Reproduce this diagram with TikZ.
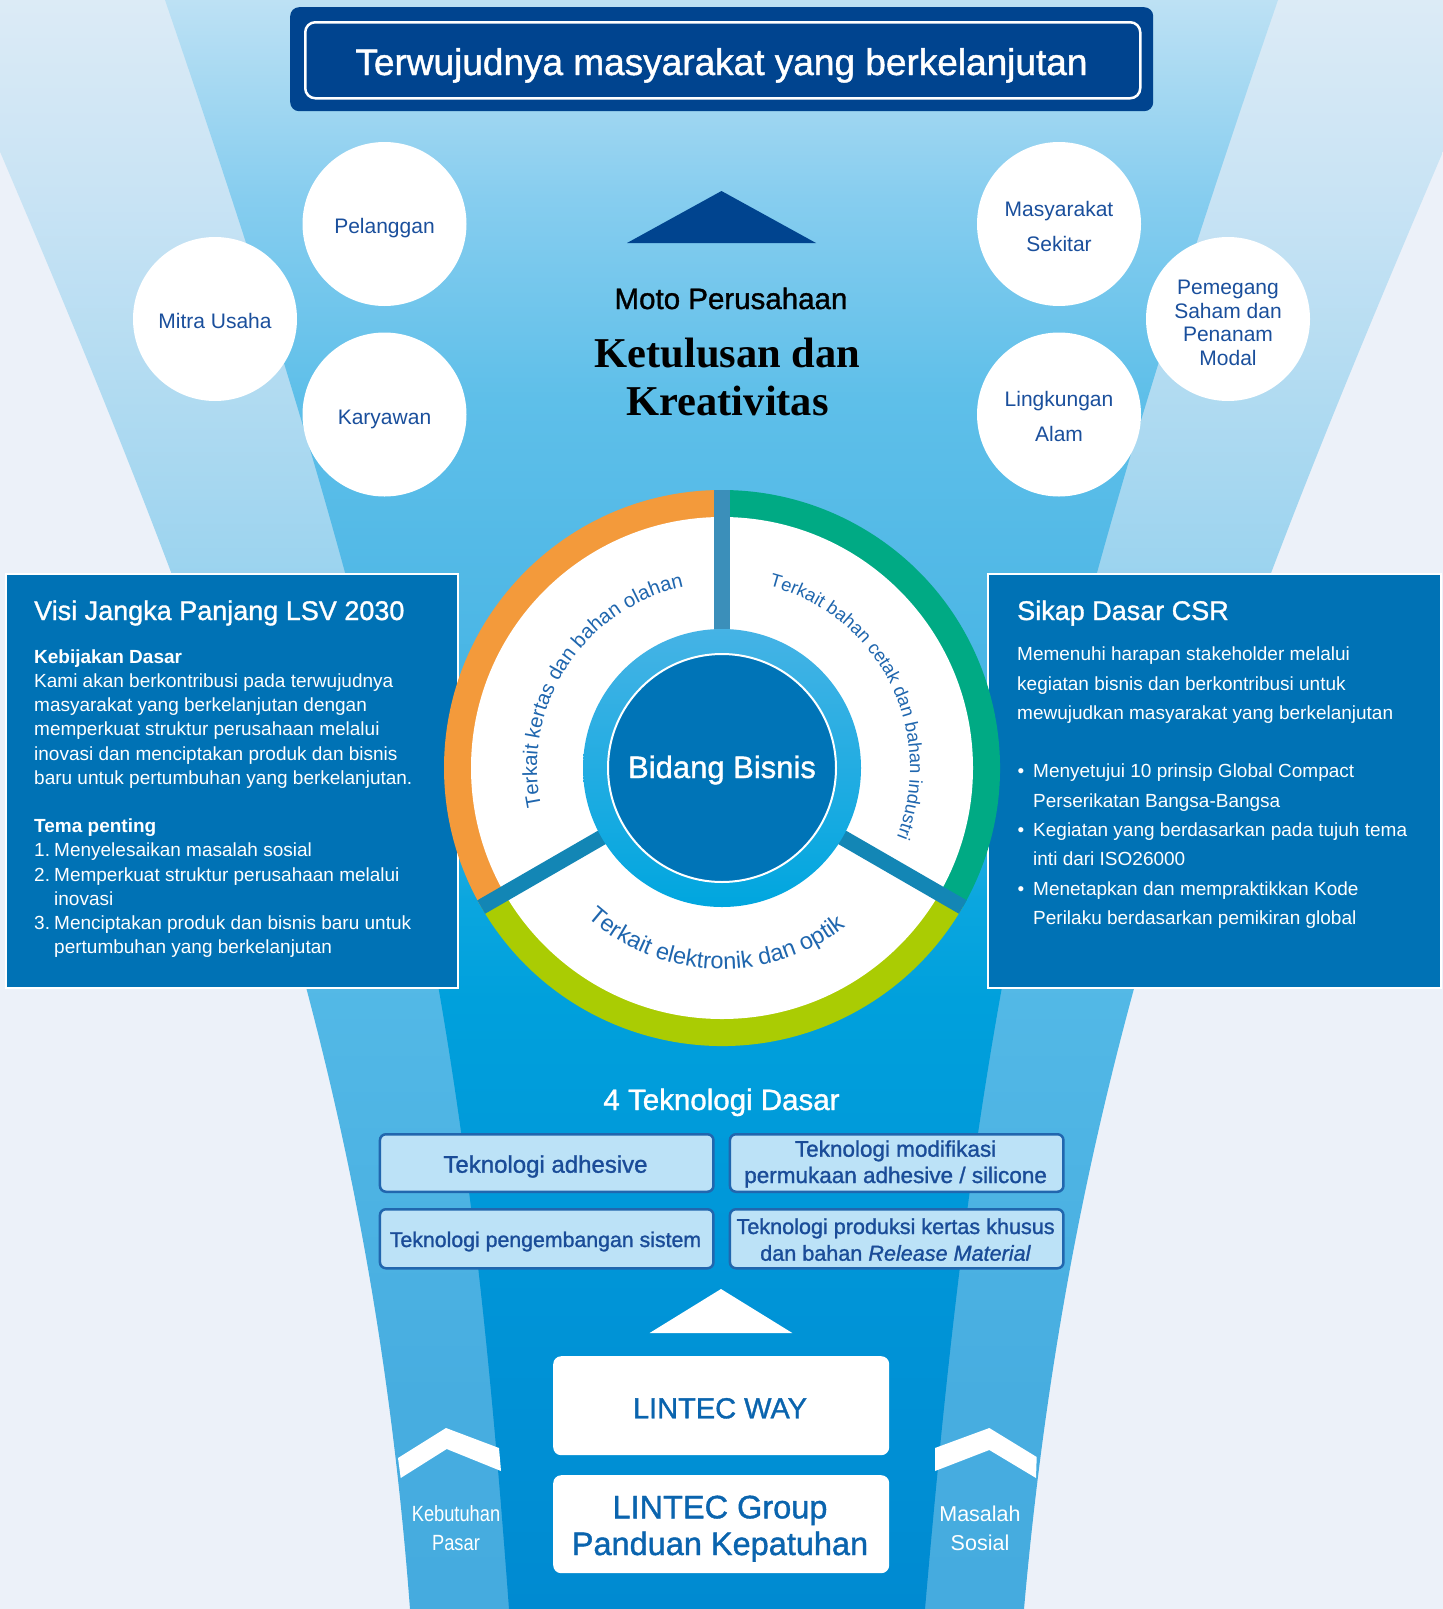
\documentclass[tikz,border=0pt]{standalone}
\usepackage{fontspec}
\setmainfont{Liberation Sans}
\newfontfamily\medfont{Liberation Sans}[FakeBold=1.2]
\newfontfamily\motofont{Liberation Serif}
\newfontfamily\condfont[FakeStretch=0.83]{Liberation Sans}
\usetikzlibrary{decorations.text}

\definecolor{bgpale}{HTML}{ECF1F9}
\definecolor{obA}{HTML}{45ABDF}
\definecolor{obB}{HTML}{47ADE0}
\definecolor{obC}{HTML}{52B8E6}
\definecolor{obD}{HTML}{9DD4EF}
\definecolor{obE}{HTML}{C8E3F4}
\definecolor{obF}{HTML}{DCEBF6}
\definecolor{ibA}{HTML}{008AD1}
\definecolor{ibB}{HTML}{0094D7}
\definecolor{ibC}{HTML}{00A0DC}
\definecolor{ibD}{HTML}{0AA6DF}
\definecolor{ibE}{HTML}{3AB2E4}
\definecolor{ibF}{HTML}{50B8E6}
\definecolor{ibG}{HTML}{5EBFE9}
\definecolor{ibH}{HTML}{86CDEF}
\definecolor{ibI}{HTML}{BDE1F4}
\definecolor{titleblue}{HTML}{00448F}
\definecolor{stakeblue}{HTML}{1A4F9C}
\definecolor{ringorange}{HTML}{F39A3B}
\definecolor{ringgreen}{HTML}{00AA84}
\definecolor{ringlime}{HTML}{AACC03}
\definecolor{spoketop}{HTML}{3B8FBA}
\definecolor{spokelow}{HTML}{1386B5}
\definecolor{annTop}{HTML}{45B3E5}
\definecolor{annBot}{HTML}{00A6DF}
\definecolor{discblue}{HTML}{0074B7}
\definecolor{ringtxt}{HTML}{1F66AE}
\definecolor{panelblue}{HTML}{0072B5}
\definecolor{techfill}{HTML}{BCE2F7}
\definecolor{techline}{HTML}{2166AE}
\definecolor{techtext}{HTML}{1A4C98}
\definecolor{lintecblue}{HTML}{0A64AE}

\pgfdeclareverticalshading{outerband}{100bp}{color(0bp)=(obA); color(25bp)=(obA); color(31.5bp)=(obB); color(43.9bp)=(obC); color(57.6bp)=(obD); color(68.8bp)=(obE); color(75bp)=(obF); color(100bp)=(obF)}
\pgfdeclareverticalshading{innerband}{100bp}{color(0bp)=(ibA); color(25bp)=(ibA); color(34.6bp)=(ibB); color(43.9bp)=(ibC); color(47bp)=(ibD); color(50.8bp)=(ibE); color(56.4bp)=(ibF); color(62.6bp)=(ibG); color(68.8bp)=(ibH); color(75bp)=(ibI); color(100bp)=(ibI)}

\newcommand\fsz[2]{\fontsize{#1}{#2}\selectfont}

\begin{document}
\begin{tikzpicture}[
        x=1pt, y=1pt,
        circ/.style={circle, fill=white, minimum size=164pt, inner sep=0pt},
        stake/.style={anchor=base, text=stakeblue, inner sep=0pt, font=\fsz{21}{25}},
        panel/.style={rectangle, draw=white, line width=2.2pt, fill=panelblue, inner sep=0pt, anchor=north west},
        paneltxt/.style={anchor=base west, text=white, inner sep=0pt, font=\fsz{19}{24}},
        paneltitle/.style={anchor=base west, text=white, inner sep=0pt, font=\medfont\fsz{27}{32}},
        techbox/.style={rectangle, rounded corners=6pt, draw=techline, line width=2.5pt, fill=techfill, inner sep=0pt, anchor=north west, minimum width=333.5pt},
        techtxt/.style={anchor=base, text=techtext, inner sep=0pt},
        lintec/.style={rectangle, rounded corners=8pt, fill=white, inner sep=0pt, anchor=north west, minimum width=336pt},
        lintectxt/.style={anchor=base, text=lintecblue, inner sep=0pt},
        bandtxt/.style={anchor=base, text=white, inner sep=0pt},
        ringlabel/.style={decorate, decoration={text along path, text align=center, text color=ringtxt, text={#1}}}
    ]
        \useasboundingbox (0,0) rectangle (1443,-1609);
        \clip (0,0) rectangle (1443,-1609);

        % Background and funnel
        \fill[bgpale] (0,0) rectangle (1443,-1609);
        \shade[shading=outerband] (-65,0) .. controls (193,-600) and (365,-1009) .. (410,-1609)
            -- (1024,-1609) .. controls (1077,-1009) and (1250,-600) .. (1508,0) -- cycle;
        \shade[shading=innerband] (165,0) .. controls (405,-700) and (465,-1009) .. (509,-1609)
            -- (925,-1609) .. controls (977,-1009) and (1037,-700) .. (1278,0) -- cycle;

        % Goal
        \node[rectangle, rounded corners=9pt, fill=titleblue, minimum width=863pt, minimum height=104pt, inner sep=0pt, anchor=north west] (goalbox) at (290,-7) {};
        \node[rectangle, rounded corners=10pt, draw=white, line width=2.5pt, minimum width=835pt, minimum height=76pt, inner sep=0pt, anchor=north west] (goalframe) at (304,-21) {};
        \node[anchor=base, text=white, inner sep=0pt, font=\medfont\fsz{37}{42}] (goal) at (721.5,-75) {Terwujudnya masyarakat yang berkelanjutan};

        % Stakeholders
        \node[circ] (pel) at (384.5,-224) {};
        \node[circ] (mitra) at (215,-319) {};
        \node[circ] (kary) at (384.5,-414.5) {};
        \node[circ] (masy) at (1059,-224) {};
        \node[circ] (pem) at (1228,-319) {};
        \node[circ] (ling) at (1059,-414.5) {};
        \node[stake] (pelT) at (384.5,-233) {Pelanggan};
        \node[stake] (mitraT) at (215,-328) {Mitra Usaha};
        \node[stake] (karyT) at (384.5,-424.3) {Karyawan};
        \node[stake] (masyT) at (1059,-216) {Masyarakat};
        \node[stake] (masyT2) at (1059,-251) {Sekitar};
        \node[stake] (lingT) at (1059,-406.4) {Lingkungan};
        \node[stake] (lingT2) at (1059,-441) {Alam};
        \foreach \y/\t [count=\i] in {294.6/Pemegang, 318/Saham dan, 341.5/Penanam, 365/Modal}
            \node[stake] (pemT\i) at (1228,-\y) {\t};

        % Motto
        \fill[titleblue] (627,-243) -- (721.5,-191) -- (816,-243) -- cycle;
        \node[anchor=base, inner sep=0pt, font=\medfont\fsz{29.5}{34}] (moto) at (731,-309) {Moto Perusahaan};
        \node[anchor=base, inner sep=0pt, font=\motofont\bfseries\fsz{42.5}{48}] (ketulusan) at (727.6,-367) {Ketulusan dan};
        \node[anchor=base, inner sep=0pt, font=\motofont\bfseries\fsz{42.5}{48}] (kreativitas) at (727.6,-415) {Kreativitas};

        % Long-term vision
        \node[panel, minimum width=452pt, minimum height=414pt] (visi) at (5,-573) {};
        \node[paneltitle] (visiT) at (34,-620) {Visi Jangka Panjang LSV 2030};
        \node[paneltxt, font=\bfseries\fsz{19}{24}] (kebijakan) at (34,-663.3) {Kebijakan Dasar};
        \foreach \y/\t [count=\i] in {687.5/Kami akan berkontribusi pada terwujudnya, 711.7/masyarakat yang berkelanjutan dengan, 735.9/memperkuat struktur perusahaan melalui, 760.1/inovasi dan menciptakan produk dan bisnis, 784.3/baru untuk pertumbuhan yang berkelanjutan.}
            \node[paneltxt] (kb\i) at (34,-\y) {\t};
        \node[paneltxt, font=\bfseries\fsz{19}{24}] (tema) at (34,-832.5) {Tema penting};
        \foreach \y/\n/\t [count=\i] in {856.8/1./Menyelesaikan masalah sosial, 881/2./Memperkuat struktur perusahaan melalui, 905.2/{}/inovasi, 929.4/3./Menciptakan produk dan bisnis baru untuk, 953.6/{}/pertumbuhan yang berkelanjutan} {
            \node[paneltxt] (tn\i) at (34,-\y) {\n};
            \node[paneltxt] (tt\i) at (54,-\y) {\t};
        }

        % CSR attitude
        \node[panel, minimum width=453pt, minimum height=414pt] (csr) at (987,-573) {};
        \node[paneltitle] (csrT) at (1017,-620) {Sikap Dasar CSR};
        \foreach \y/\t [count=\i] in {660.7/Memenuhi harapan stakeholder melalui, 690/kegiatan bisnis dan berkontribusi untuk, 719.3/mewujudkan masyarakat yang berkelanjutan}
            \node[paneltxt] (cs\i) at (1017,-\y) {\t};
        \foreach \y/\t [count=\i] in {777.9/Menyetujui 10 prinsip Global Compact, 836.5/Kegiatan yang berdasarkan pada tujuh tema, 895.1/Menetapkan dan mempraktikkan Kode} {
            \node[paneltxt] (dot\i) at (1017.5,-\y) {•};
            \node[paneltxt] (pt\i) at (1033,-\y) {\t};
        }
        \foreach \y/\t [count=\i] in {807.2/Perserikatan Bangsa-Bangsa, 865.8/inti dari ISO26000, 924.4/Perilaku berdasarkan pemikiran global}
            \node[paneltxt] (pc\i) at (1033,-\y) {\t};

        % Business ring
        \coordinate (rc) at (722,-768);
        \fill[ringorange] (rc) -- ++(90:278) arc[start angle=90, end angle=210, radius=278] -- cycle;
        \fill[ringgreen] (rc) -- ++(-30:278) arc[start angle=-30, end angle=90, radius=278] -- cycle;
        \fill[ringlime] (rc) -- ++(210:278) arc[start angle=210, end angle=330, radius=278] -- cycle;
        \fill[white] (rc) circle[radius=251];
        \foreach \a/\c in {90/spoketop, 210/spokelow, 330/spokelow}
            \draw[\c, line width=15.5pt] (rc) ++(\a:120) -- ++(\a:158);
        \shade[top color=annTop, bottom color=annBot] (rc) circle[radius=139];
        \fill[discblue] (rc) circle[radius=114];
        \draw[white, line width=2pt] (rc) circle[radius=114];
        \node[anchor=base, text=white, inner sep=0pt, font=\medfont\fsz{31}{36}] (bidang) at (722,-778) {Bidang Bisnis};
        \begin{scope}[shift={(722,-768)}]
            \path[ringlabel={|\fsz{20.3}{25}|Terkait kertas dan bahan olahan}] (239:185) arc[start angle=239, end angle=55, radius=185];
            \path[ringlabel={|\fsz{18.4}{22}|Terkait bahan cetak dan bahan industri}] (118:188) arc[start angle=118, end angle=-64, radius=188];
            \path[ringlabel={|\fsz{23.5}{28}|Terkait elektronik dan optik}] (-168:201) arc[start angle=-168, end angle=-16, radius=201];
        \end{scope}

        % Core technologies
        \node[anchor=base, text=white, inner sep=0pt, font=\medfont\fsz{29.5}{34}] (tekno) at (721.5,-1110) {4 Teknologi Dasar};
        \node[techbox, minimum height=57.5pt] (adh) at (378.7,-1133) {};
        \node[techbox, minimum height=57.5pt] (mod) at (728.7,-1133) {};
        \node[techbox, minimum height=59pt] (sis) at (378.7,-1208) {};
        \node[techbox, minimum height=59pt] (ker) at (728.7,-1208) {};
        \node[techtxt, font=\medfont\fsz{24}{28}] (adhT) at (545.5,-1172.7) {Teknologi adhesive};
        \node[techtxt, font=\medfont\fsz{22.5}{26}] (modT) at (895.6,-1156.7) {Teknologi modifikasi};
        \node[techtxt, font=\medfont\fsz{22.5}{26}] (modT2) at (895.6,-1183) {permukaan adhesive / silicone};
        \node[techtxt, font=\medfont\fsz{21.3}{26}] (sisT) at (545.5,-1247) {Teknologi pengembangan sistem};
        \node[techtxt, font=\medfont\fsz{21.6}{26}] (kerT) at (895.6,-1234) {Teknologi produksi kertas khusus};
        \node[techtxt, font=\medfont\fsz{21.6}{26}] (kerT2) at (895.6,-1260.7) {dan bahan \textit{Release Material}};

        % Foundation
        \fill[white] (649.6,-1333) -- (721,-1289) -- (792.3,-1333) -- cycle;
        \node[lintec, minimum height=99pt] (way) at (553,-1356) {};
        \node[lintec, minimum height=98pt] (guide) at (553,-1475) {};
        \node[lintectxt, font=\medfont\fsz{29}{34}] (wayT) at (720,-1418.3) {LINTEC WAY};
        \node[lintectxt, font=\medfont\fsz{32.5}{37}] (guideT) at (720,-1518.3) {LINTEC Group};
        \node[lintectxt, font=\medfont\fsz{32.5}{37}] (guideT2) at (720,-1555) {Panduan Kepatuhan};

        % Side drivers
        \fill[white] (398,-1458) -- (446,-1428) -- (499,-1448) -- (501,-1471) -- (446.7,-1449) -- (400.7,-1478) -- cycle;
        \fill[white] (935,-1448) -- (989.3,-1428) -- (1036.7,-1457) -- (1036,-1478) -- (989.3,-1450) -- (935,-1471) -- cycle;
        \node[bandtxt, font=\condfont\fsz{22}{26}] (pasar) at (456,-1521.7) {Kebutuhan};
        \node[bandtxt, font=\condfont\fsz{22}{26}] (pasar2) at (456,-1550) {Pasar};
        \node[bandtxt, font=\fsz{21.5}{26}] (sosial) at (980,-1521.7) {Masalah};
        \node[bandtxt, font=\fsz{21.5}{26}] (sosial2) at (980,-1550.7) {Sosial};
    \end{tikzpicture}
\end{document}
